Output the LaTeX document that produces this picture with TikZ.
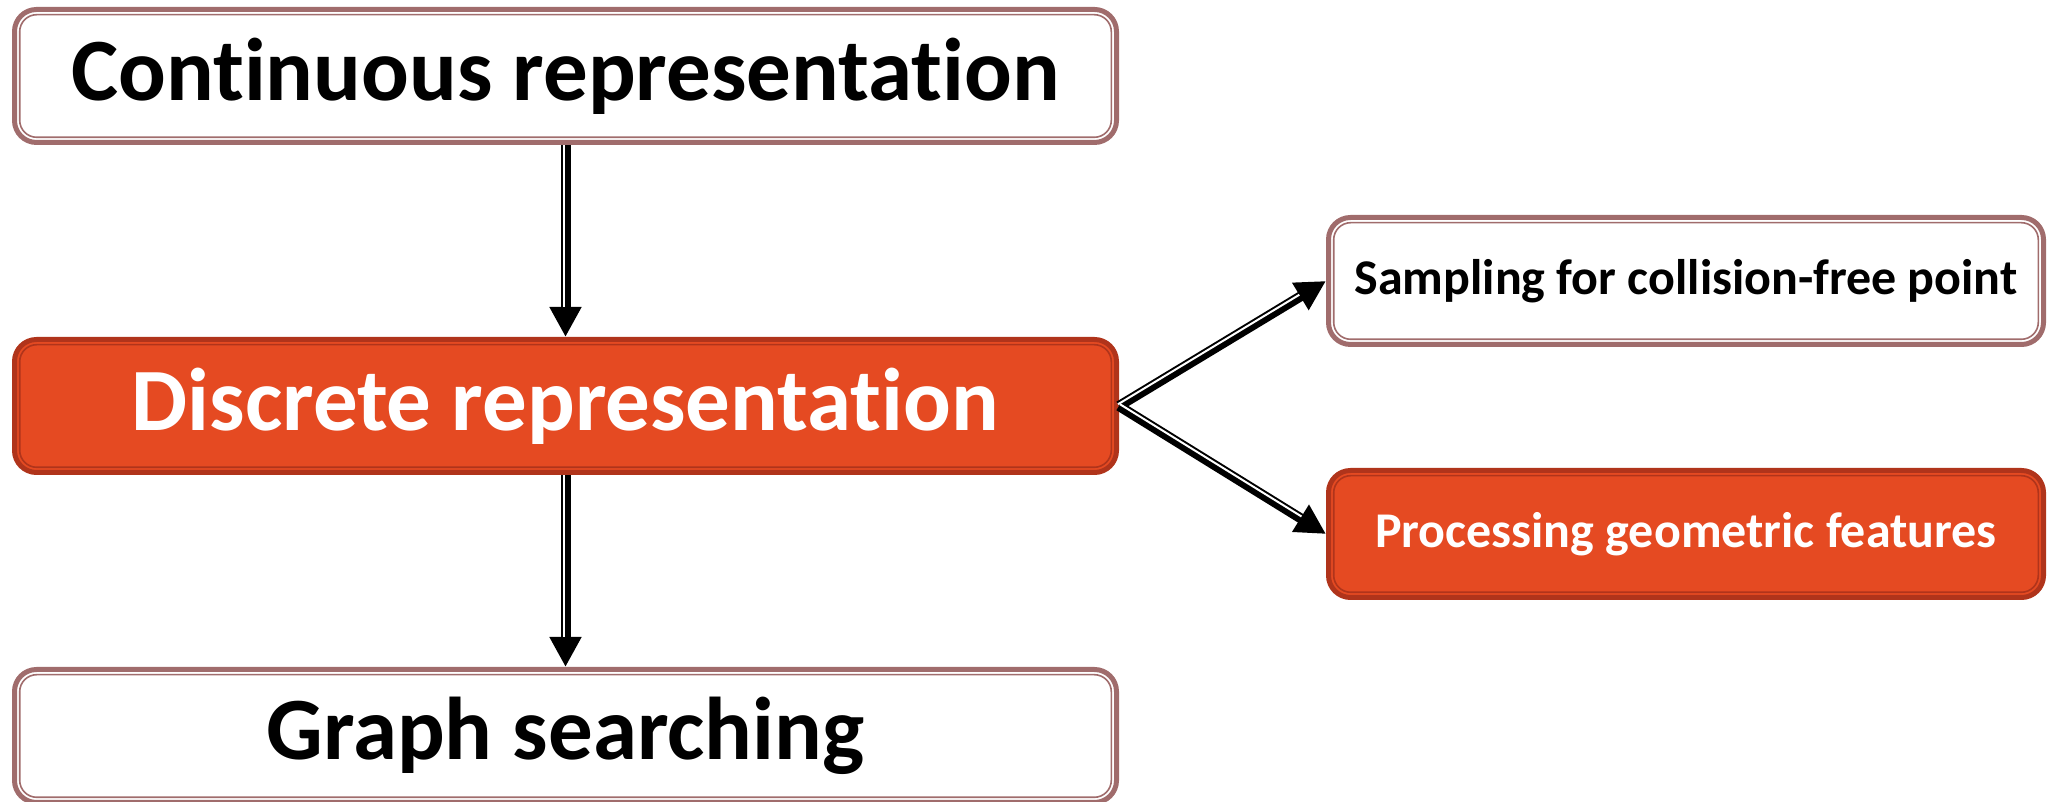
\documentclass[tikz,border=0pt]{standalone}
\usepackage{fontspec}
\setmainfont{Carlito}[Ligatures=NoCommon]
\usetikzlibrary{arrows.meta}
\definecolor{boxrim}{HTML}{A06C6C}
\definecolor{hotfill}{HTML}{E54A22}
\definecolor{hotrim}{HTML}{B0341B}
\begin{document}
\begin{tikzpicture}[x=0.5pt,y=0.5pt, line join=round,
    rim/.style={path picture={\draw[#1,line width=0.8pt,rounded corners=8.5pt]
        ([shift={(2.6pt,-2.6pt)}]path picture bounding box.north west) rectangle
        ([shift={(-2.6pt,2.6pt)}]path picture bounding box.south east);}},
    bigbox/.style={rounded corners=11pt, line width=2.5pt, inner sep=0pt,
        minimum width=551pt, minimum height=66.5pt, font=\fontsize{44.5}{48}\selectfont\bfseries},
    smallbox/.style={rounded corners=11pt, line width=2.5pt, inner sep=0pt,
        minimum width=357.5pt, minimum height=63.5pt, font=\fontsize{25}{28}\selectfont\bfseries},
    plain/.style={draw=boxrim, fill=white, text=black, rim=boxrim},
    hot/.style={draw=hotrim, fill=hotfill, text=white, rim=hotrim},
    flow/.style={-{Triangle[length=15pt,width=15pt]}, line width=5pt},
    stripe/.style={white, line width=1pt, shorten >=15pt, transform canvas={shift={#1}}}]
    \useasboundingbox (0,0) rectangle (2047,802);
    \node[bigbox,plain] (cont) at (565.5,726) {Continuous representation};
    \node[bigbox,hot] (disc) at (565.5,396) {Discrete representation};
    \node[bigbox,plain] (graph) at (565.5,66) {Graph searching};
    \node[smallbox,plain] (samp) at (1686,521) {Sampling for collision-free point};
    \node[smallbox,hot] (proc) at (1686,268) {Processing geometric features};
    \draw[flow] (cont.south) -- (disc.north);
    \draw[flow] (disc.south) -- (graph.north);
    \draw[flow] (disc.east) -- (samp.west);
    \draw[flow] (disc.east) -- (proc.west);
    \draw[stripe={(-1pt,0pt)}] (cont.south) -- (disc.north);
    \draw[stripe={(-1pt,0pt)}] (disc.south) -- (graph.north);
    \draw[stripe={(-0.5pt,0.87pt)}] (disc.east) -- (samp.west);
    \draw[stripe={(0.5pt,0.87pt)}] (disc.east) -- (proc.west);
\end{tikzpicture}
\end{document}
